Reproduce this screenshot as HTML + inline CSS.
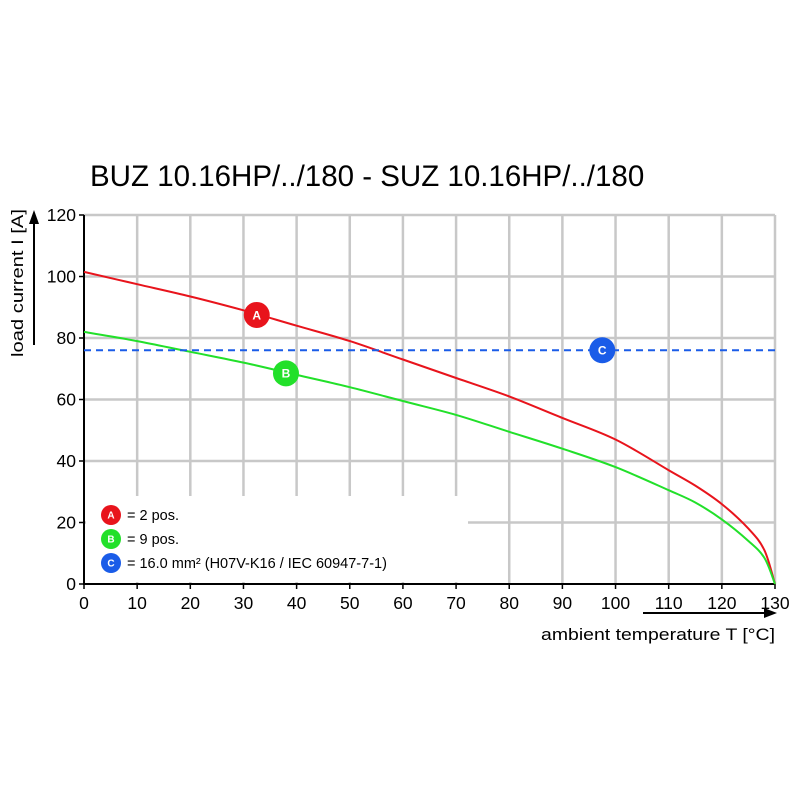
<!DOCTYPE html>
<html><head><meta charset="utf-8"><style>
html,body{margin:0;padding:0;background:#fff;}
svg{display:block;font-family:"Liberation Sans",sans-serif;}
</style></head><body>
<svg id="chart" width="800" height="800" viewBox="0 0 800 800">
<text x="90" y="186" font-size="29.5" fill="#000">BUZ 10.16HP/../180 - SUZ 10.16HP/../180</text>
<g id="grid"></g>
<g id="axes"></g>
<g id="series"></g>
<g id="legend"></g>
</svg>
<script>
const xTicks=[0,10,20,30,40,50,60,70,80,90,100,110,120,130];
const yTicks=[0,20,40,60,80,100,120];
const temps=[0,10,20,30,40,50,60,70,80,90,100,110,115,120,125,128,130];
const seriesA=[101.5,97.5,93.5,89,84,79,73,67,61,54,47,37,32,26,18,11,0];
const seriesB=[82,79,75.5,72,68,64,59.5,55,49.5,44,38,30.5,26.5,21,14,8.5,0];
const limitC=76;
const markerA=[32.5,87.5], markerB=[38,68.5], markerC=[97.5,76];
const NS="http://www.w3.org/2000/svg";
const X0=84,X1=775,Y0=584,Y1=215;
const sx=v=>X0+(v-0)/130*(X1-X0);
const sy=v=>Y0-(v/120)*(Y0-Y1);
function mk(tag,attrs,parent){const e=document.createElementNS(NS,tag);for(const k in attrs)e.setAttribute(k,attrs[k]);parent.appendChild(e);return e;}
const grid=document.getElementById('grid'),axes=document.getElementById('axes'),ser=document.getElementById('series'),leg=document.getElementById('legend');
xTicks.forEach(t=>{if(t===0)return;const l=mk('line',{x1:sx(t),x2:sx(t),y1:Y1,y2:Y0,stroke:'#c8c8c8','stroke-width':2.5},grid);

});
yTicks.forEach(t=>{if(t===0)return;const l=mk('line',{x1:X0,x2:X1,y1:sy(t),y2:sy(t),stroke:'#c8c8c8','stroke-width':2.5},grid);

});
const bg=mk('rect',{x:86,y:496,width:382,height:86,fill:'#fff'},grid);


mk('line',{x1:X0,x2:X0,y1:Y1,y2:Y0+1,stroke:'#000','stroke-width':2},axes);
mk('line',{x1:X0-1,x2:X1,y1:Y0,y2:Y0,stroke:'#000','stroke-width':2},axes);
xTicks.forEach(t=>{mk('line',{x1:sx(t),x2:sx(t),y1:Y0,y2:Y0+5,stroke:'#000','stroke-width':1.5},axes);
const tx=mk('text',{x:sx(t),y:Y0+25,'text-anchor':'middle','font-size':17.5},axes);tx.textContent=t;

});
yTicks.forEach(t=>{mk('line',{x1:X0-5,x2:X0,y1:sy(t),y2:sy(t),stroke:'#000','stroke-width':1.5},axes);
const tx=mk('text',{x:X0-8,y:sy(t)+6,'text-anchor':'end','font-size':17.5},axes);tx.textContent=t;

});
const xt=mk('text',{x:775,y:640,'text-anchor':'end','font-size':17,textLength:234,lengthAdjust:'spacingAndGlyphs'},axes);xt.textContent='ambient temperature T [°C]';


mk('line',{x1:643,x2:770,y1:613,y2:613,stroke:'#000','stroke-width':2},axes);
mk('polygon',{points:'777,613 764,608 764,618',fill:'#000'},axes);
const yt=mk('text',{x:0,y:0,'text-anchor':'start','font-size':17,textLength:148,lengthAdjust:'spacingAndGlyphs',transform:'translate(23,357) rotate(-90)'},axes);yt.textContent='load current I [A]';


mk('line',{x1:34,x2:34,y1:345,y2:220,stroke:'#000','stroke-width':2},axes);
mk('polygon',{points:'34,210 29,224 39,224',fill:'#000'},axes);
function path(vals){const p=temps.map((t,i)=>[sx(t),sy(vals[i])]);let d='M'+p[0][0].toFixed(1)+','+p[0][1].toFixed(1);
for(let i=0;i<p.length-1;i++){const p0=p[Math.max(0,i-1)],p1=p[i],p2=p[i+1],p3=p[Math.min(p.length-1,i+2)];
const c1=[p1[0]+(p2[0]-p0[0])/6,p1[1]+(p2[1]-p0[1])/6],c2=[p2[0]-(p3[0]-p1[0])/6,p2[1]-(p3[1]-p1[1])/6];
d+=' C'+c1[0].toFixed(1)+','+c1[1].toFixed(1)+' '+c2[0].toFixed(1)+','+c2[1].toFixed(1)+' '+p2[0].toFixed(1)+','+p2[1].toFixed(1);}
return d;}
const pa=mk('path',{d:path(seriesA),fill:'none',stroke:'#e8141c','stroke-width':2},ser);


const pb=mk('path',{d:path(seriesB),fill:'none',stroke:'#22e02a','stroke-width':2},ser);


const pc=mk('line',{x1:X0,x2:X1,y1:sy(limitC),y2:sy(limitC),stroke:'#1a5ce8','stroke-width':2,'stroke-dasharray':'7,5'},ser);


function badge(cx,cy,r,col,letter,parent,name,fs){const g=mk('g',{},parent);


mk('circle',{cx:cx,cy:cy,r:r,fill:col},g);const t=mk('text',{x:cx,y:cy+fs*0.36,'text-anchor':'middle','font-size':fs,'font-weight':'bold',fill:'#fff'},g);t.textContent=letter;}
badge(sx(markerA[0]),sy(markerA[1]),13,'#e8141c','A',ser,'marker-a',12);
badge(sx(markerB[0]),sy(markerB[1]),13,'#22e02a','B',ser,'marker-b',12);
badge(sx(markerC[0]),sy(markerC[1]),13,'#1a5ce8','C',ser,'marker-c',12);
const legItems=[['#e8141c','A','= 2 pos.'],['#22e02a','B','= 9 pos.'],['#1a5ce8','C','= 16.0 mm² (H07V-K16 / IEC 60947-7-1)']];
legItems.forEach((it,i)=>{const y=515+i*24;badge(111,y,10,it[0],it[1],leg,'legend-badge-'+it[1].toLowerCase(),10);
const t=mk('text',{x:127,y:y+5,'font-size':14.5},leg);t.textContent=it[2];

});
</script>
</body></html>
